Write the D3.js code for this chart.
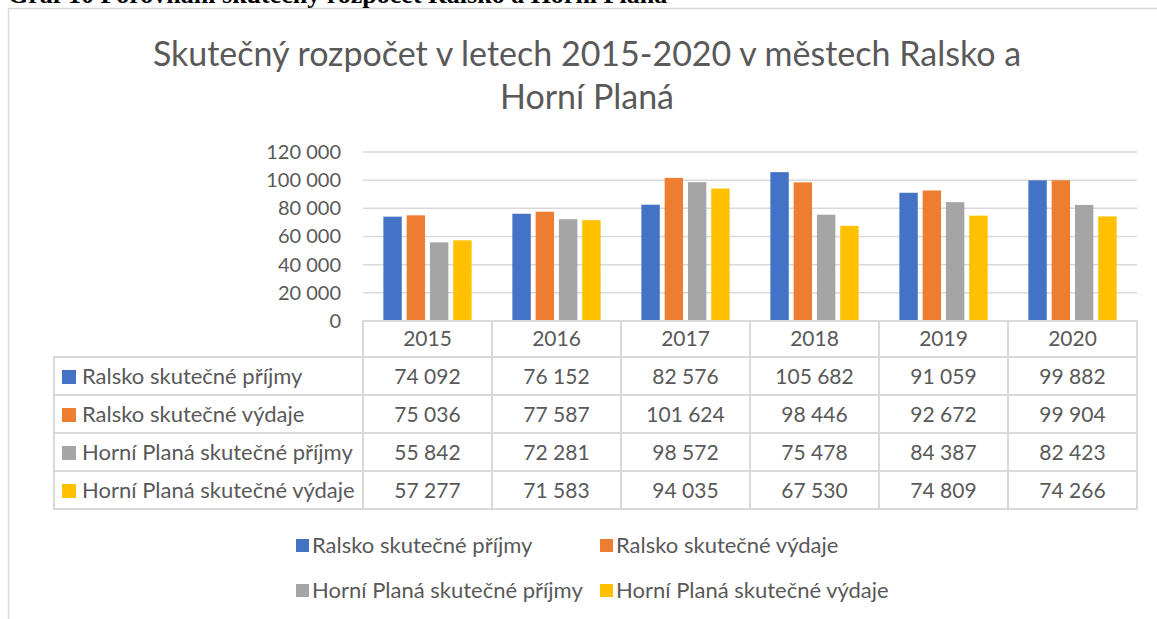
<!DOCTYPE html>
<html>
<head>
<meta charset="utf-8">
<script src="https://cdn.jsdelivr.net/npm/d3@7"></script>
<style>
  body { margin: 0; background: #fff; }
  svg { display: block; }
  text { font-family: Lato, "Open Sans", sans-serif; fill: #595959; }
</style>
</head>
<body>
<svg id="graf" width="1157" height="619"></svg>
<script>
// data
const roky = ["2015", "2016", "2017", "2018", "2019", "2020"];
const serie = ["Ralsko skutečné příjmy", "Ralsko skutečné výdaje", "Horní Planá skutečné příjmy", "Horní Planá skutečné výdaje"];
const ralskoPrijmy = [74092, 76152, 82576, 105682, 91059, 99882];
const ralskoVydaje = [75036, 77587, 101624, 98446, 92672, 99904];
const hpPrijmy = [55842, 72281, 98572, 75478, 84387, 82423];
const hpVydaje = [57277, 71583, 94035, 67530, 74809, 74266];
const osaY = [0, 20000, 40000, 60000, 80000, 100000, 120000];
const barvy = ["#4472C4", "#ED7D31", "#A5A5A5", "#FFC000"];

const hodnoty = [ralskoPrijmy, ralskoVydaje, hpPrijmy, hpVydaje];

const svg = d3.select("#graf");
const fmt = d3.formatLocale({ decimal: ",", thousands: " ", grouping: [3], currency: ["", ""] }).format(",d");

// ramecek grafu
svg.append("rect")
    .attr("x", 8.5).attr("y", 8.5)
    .attr("width", 1200).attr("height", 700)
    .attr("fill", "none")
    .attr("stroke", "#D9D9D9")
    .attr("stroke-width", 1.5);

// popisek nad grafem (oriznuty)
svg.append("text")
    .attr("x", 8).attr("y", 3)
    .style("font-family", "'Liberation Serif', serif")
    .style("font-weight", "bold")
    .style("font-size", "26px")
    .style("fill", "#000")
    .text("Graf 10 Porovnání skutečný rozpočet Ralsko a Horní Planá");

// titulek
const titul = svg.append("text")
    .attr("text-anchor", "middle")
    .style("font-size", "34px");
titul.append("tspan").attr("x", 587).attr("y", 66).text("Skutečný rozpočet v letech 2015-2020 v městech Ralsko a");
titul.append("tspan").attr("x", 587).attr("y", 109).text("Horní Planá");

const x = d3.scaleBand().domain(roky).range([363, 1137]);
const xs = d3.scaleBand().domain(d3.range(serie.length)).range([0, x.bandwidth()]).paddingOuter(0.875).paddingInner(0.21);
const y = d3.scaleLinear().domain([0, 120000]).range([321, 152]);

// mrizka
svg.append("g")
    .selectAll("line")
    .data(osaY)
    .join("line")
    .attr("x1", 363).attr("x2", 1137)
    .attr("y1", d => y(d)).attr("y2", d => y(d))
    .attr("stroke", "#D9D9D9")
    .attr("stroke-width", 1.5);

// osa Y
const osa = svg.append("g")
    .attr("transform", "translate(341,0)")
    .call(d3.axisLeft(y).tickValues(osaY).tickFormat(fmt).tickSize(0).tickPadding(0));
osa.select(".domain").remove();
osa.selectAll("text")
    .style("font-size", "20px")
    .style("font-family", "Lato, sans-serif")
    .attr("fill", "#595959");

// sloupce
svg.append("g")
    .selectAll("g")
    .data(hodnoty)
    .join("g")
    .attr("fill", (d, i) => barvy[i])
    .each(function (rada, i) {
        d3.select(this).selectAll("rect")
            .data(rada)
            .join("rect")
            .attr("x", (v, j) => x(roky[j]) + xs(i))
            .attr("width", xs.bandwidth())
            .attr("y", v => y(v))
            .attr("height", v => y(0) - y(v));
    });

// datova tabulka
const radekY = [321, 357, 395, 433, 471, 509];
const tab = svg.append("g");
const car = "#D9D9D9";

// hlavicka s roky
roky.forEach(r => {
    tab.append("rect")
        .attr("x", x(r)).attr("y", radekY[0])
        .attr("width", x.bandwidth()).attr("height", radekY[1] - radekY[0])
        .attr("fill", "none").attr("stroke", car).attr("stroke-width", 2);
    tab.append("text")
        .attr("x", x(r) + x.bandwidth() / 2).attr("y", radekY[0] + 25)
        .attr("text-anchor", "middle")
        .style("font-size", "21px")
        .text(r);
});

serie.forEach((s, i) => {
    const y0 = radekY[i + 1], h = radekY[i + 2] - y0;
    tab.append("rect")
        .attr("x", 54).attr("y", y0)
        .attr("width", 363 - 54).attr("height", h)
        .attr("fill", "none").attr("stroke", car).attr("stroke-width", 2);
    tab.append("rect")
        .attr("x", 62).attr("y", y0 + 13)
        .attr("width", 14).attr("height", 14)
        .attr("fill", barvy[i]);
    tab.append("text")
        .attr("x", 82).attr("y", y0 + 27)
        .style("font-size", "22px")
        .text(s);
    hodnoty[i].forEach((v, j) => {
        tab.append("rect")
            .attr("x", x(roky[j])).attr("y", y0)
            .attr("width", x.bandwidth()).attr("height", h)
            .attr("fill", "none").attr("stroke", car).attr("stroke-width", 2);
        tab.append("text")
            .attr("x", x(roky[j]) + x.bandwidth() / 2).attr("y", y0 + 27)
            .attr("text-anchor", "middle")
            .style("font-size", "21px")
            .text(fmt(v));
    });
});

// legenda
const legPos = [[296, 546], [600, 546], [296, 591], [600, 591]];
const leg = svg.append("g")
    .selectAll("g")
    .data(serie)
    .join("g")
    .attr("transform", (d, i) => `translate(${legPos[i][0]},${legPos[i][1]})`);
leg.append("rect")
    .attr("x", 0).attr("y", -7)
    .attr("width", 13).attr("height", 13)
    .attr("fill", (d, i) => barvy[i]);
leg.append("text")
    .attr("x", 16).attr("y", 7)
    .style("font-size", "22px")
    .text(d => d);
</script>
</body>
</html>
